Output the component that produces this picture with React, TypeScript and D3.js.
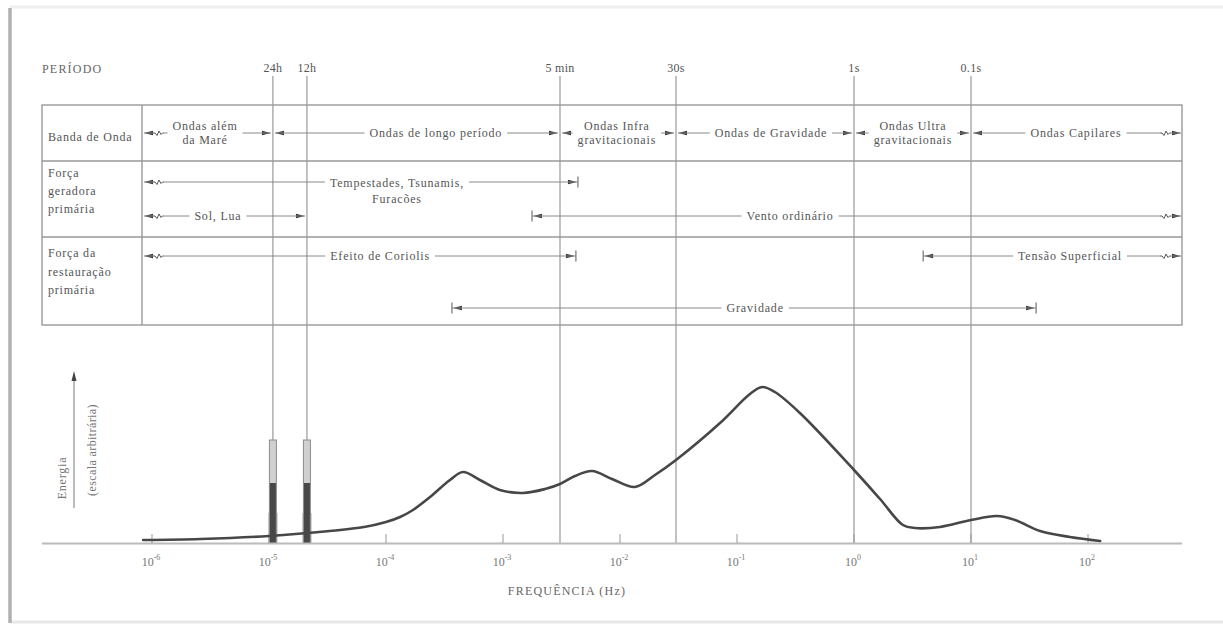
import React, { useEffect, useRef } from 'react';
import * as d3 from 'd3';

const W = 1223;
const H = 625;

// ---- data ----
const periodLabels = ['24h', '12h', '5 min', '30s', '1s', '0.1s'];
const periodFreqs = [1.08e-5, 2.11e-5, 3.07e-3, 3.01e-2, 1, 10];

const decadeExps = [-6, -5, -4, -3, -2, -1, 0, 1, 2];

const rowTitles = [
  ['Banda de Onda'],
  ['Força', 'geradora', 'primária'],
  ['Força da', 'restauração', 'primária'],
];

const bandLabels = [
  ['Ondas além', 'da Maré'],
  ['Ondas de longo período'],
  ['Ondas Infra', 'gravitacionais'],
  ['Ondas de Gravidade'],
  ['Ondas Ultra', 'gravitacionais'],
  ['Ondas Capilares'],
];
const bandEdges: (number | null)[] = [null, 1.08e-5, 3.07e-3, 3.01e-2, 1, 10, null];
const bandLabelFreqs = [2.84e-6, 2.67e-4, 9.4e-3, 0.195, 3.19, 78.9];

const forceLabels = [
  ['Tempestades, Tsunamis,', 'Furacões'],
  ['Sol, Lua'],
  ['Vento ordinário'],
  ['Efeito de Coriolis'],
  ['Tensão Superficial'],
  ['Gravidade'],
];
const forceFrom: (number | null)[] = [null, null, 1.77e-3, null, 3.9, 3.66e-4];
const forceTo: (number | null)[] = [4.37e-3, 2.11e-5, null, 4.2e-3, null, 36];
const forceEndKind = ['bar', 'arrow', 'bar', 'bar', 'bar', 'bar'];
const forceLabelFreqs = [1.24e-4, 3.66e-6, 0.284, 8.9e-5, 70.2, 0.143];
const forceLane = [0, 1, 1, 2, 2, 3];

const energyFreq = [
  8.4e-7, 2.6e-6, 1e-5, 3.3e-5, 6.5e-5, 1e-4, 1.32e-4, 1.7e-4, 2.38e-4, 3.52e-4, 4.55e-4,
  6.35e-4, 9.4e-4, 1.48e-3, 2.29e-3, 3.07e-3, 4.12e-3, 5.77e-3, 8.55e-3, 1.34e-2, 1.99e-2,
  3.01e-2, 7.16e-2, 0.129, 0.164, 0.211, 0.345, 1, 1.67, 2.62, 3.32,
  5.43, 10, 16.7, 23.8, 38.9, 70.1, 127,
];
const energyValue = [
  3, 4, 7, 12, 16, 21, 26, 33, 46, 63, 71,
  63, 53, 50, 54, 59, 67, 72, 64, 56, 68,
  83, 120, 149, 156, 151, 130, 73, 44, 18, 15,
  16, 23, 27, 23, 12, 6, 2,
];

const tideSpikeFreqs = [1.08e-5, 2.11e-5];
const tideSpikeTop = [103, 103];
const tideSpikeCore = [60, 60];
const tideSpikeBase = [30, 30];

export default function App() {
  const ref = useRef<SVGSVGElement>(null);

  useEffect(() => {
    const svg = d3.select(ref.current as SVGSVGElement);
    svg.selectAll('*').remove();

    const font = "'Liberation Serif', 'DejaVu Serif', serif";
    const textColor = '#555';
    const rangeColor = '#8a8a8a';

    const x = d3.scaleLog().domain([1e-6, 1e2]).range([152, 1088]);
    const y = d3.scaleLinear().domain([0, 160]).range([543, 383]);
    const baseY = y(0);

    const T = { left: 42, right: 1182, div: 142, top: 105, rows: [161, 237, 325] };
    const innerL = T.div + 2;
    const innerR = T.right - 1;
    const bandY = 133;
    const laneY = [182, 216, 256, 308];
    const titleBaselines = [[141], [177, 195, 213], [257, 276, 294]];

    svg.append('rect').attr('width', W).attr('height', H).attr('fill', '#fff');

    // photo frame
    svg.append('line').attr('x1', 10).attr('x2', W).attr('y1', 7).attr('y2', 7)
      .attr('stroke', '#efefef').attr('stroke-width', 3);
    svg.append('line').attr('x1', 10).attr('x2', W).attr('y1', 622).attr('y2', 622)
      .attr('stroke', '#e8e8e8').attr('stroke-width', 3);
    svg.append('line').attr('x1', 10).attr('x2', 10).attr('y1', 8).attr('y2', 623)
      .attr('stroke', '#b0b0b0').attr('stroke-width', 3.5);

    const txt = (g: any, s: string, tx: number, ty: number, size = 12, anchor = 'middle', fill = textColor, ls = 0.8) =>
      g.append('text').attr('x', tx).attr('y', ty).text(s)
        .attr('font-family', font).attr('font-size', size)
        .attr('fill', fill).attr('letter-spacing', ls)
        .attr('text-anchor', anchor);

    // PERÍODO
    txt(svg, 'PERÍODO', 42, 73, 12, 'start', '#666', 1.2);

    // table
    const tg = svg.append('g');
    tg.append('rect').attr('x', T.left).attr('y', T.top)
      .attr('width', T.right - T.left).attr('height', T.rows[2] - T.top)
      .attr('fill', 'none').attr('stroke', '#999').attr('stroke-width', 1.4);
    [T.rows[0], T.rows[1]].forEach((ry) => {
      tg.append('line').attr('x1', T.left).attr('x2', T.right).attr('y1', ry).attr('y2', ry)
        .attr('stroke', '#999').attr('stroke-width', 1.4);
    });
    tg.append('line').attr('x1', T.div).attr('x2', T.div).attr('y1', T.top).attr('y2', T.rows[2])
      .attr('stroke', '#999').attr('stroke-width', 1.4);

    rowTitles.forEach((lines, r) => {
      lines.forEach((l, i) => txt(tg, l, 48, titleBaselines[r][i], 12, 'start'));
    });

    // period lines
    periodFreqs.forEach((f, i) => {
      const px = x(f);
      svg.append('line').attr('x1', px).attr('x2', px).attr('y1', 76).attr('y2', baseY)
        .attr('stroke', '#999').attr('stroke-width', 1.2);
      txt(svg, periodLabels[i], px, 72, 12, 'middle', '#555', 0.3);
    });

    const rg = svg.append('g');
    const arrowHead = (tip: number, yy: number, dir: number) => {
      rg.append('path')
        .attr('d', `M${tip},${yy} L${tip - dir * 9},${yy - 2.2} L${tip - dir * 9},${yy + 2.2} Z`)
        .attr('fill', '#333');
    };
    const squiggle = (sx: number, yy: number) => {
      rg.append('path')
        .attr('d', `M${sx},${yy} l2,0 l2,2.5 l2,-4.5 l2,3.5 l1.5,-1.5 l1.5,0`)
        .attr('fill', 'none').attr('stroke', '#555').attr('stroke-width', 1);
    };
    const bar = (bx: number, yy: number) => {
      rg.append('line').attr('x1', bx).attr('x2', bx).attr('y1', yy - 5.5).attr('y2', yy + 5.5)
        .attr('stroke', '#666').attr('stroke-width', 1.1);
    };
    const seg = (a: number, b: number, yy: number) => {
      if (b - a > 0.5) {
        rg.append('line').attr('x1', a).attr('x2', b).attr('y1', yy).attr('y2', yy)
          .attr('stroke', rangeColor).attr('stroke-width', 1);
      }
    };

    const drawRange = (
      yy: number, f1: number | null, f2: number | null,
      k1: string, k2: string, lines: string[], lf: number, offsets: number[],
    ) => {
      let start: number;
      let end: number;
      if (f1 === null) {
        arrowHead(innerL, yy, -1);
        seg(innerL, innerL + 9, yy);
        squiggle(innerL + 9, yy);
        start = innerL + 20;
      } else if (k1 === 'bar') {
        const bx = x(f1);
        bar(bx, yy);
        arrowHead(bx + 1, yy, -1);
        start = bx;
      } else {
        const bx = x(f1) + 2;
        arrowHead(bx, yy, -1);
        start = bx;
      }
      if (f2 === null) {
        arrowHead(innerR, yy, 1);
        squiggle(innerR - 21, yy);
        seg(innerR - 10, innerR, yy);
        end = innerR - 21;
      } else if (k2 === 'bar') {
        const bx = x(f2);
        bar(bx, yy);
        arrowHead(bx - 1, yy, 1);
        end = bx;
      } else {
        const bx = x(f2) - 2;
        arrowHead(bx, yy, 1);
        end = bx;
      }
      const lx = x(lf);
      const tgp = rg.append('g');
      lines.forEach((l, i) => txt(tgp, l, lx, yy + offsets[i], 12, 'middle'));
      const bb = (tgp.node() as SVGGElement).getBBox();
      seg(start, bb.x - 5, yy);
      seg(bb.x + bb.width + 5, end, yy);
    };

    // wave bands
    bandLabels.forEach((lines, i) => {
      const offs = lines.length === 2 ? [-3, 11] : [4];
      drawRange(bandY, bandEdges[i], bandEdges[i + 1], 'arrow', 'arrow', lines, bandLabelFreqs[i], offs);
    });

    // forces
    forceLabels.forEach((lines, i) => {
      const offs = lines.length === 2 ? [5, 21] : [4];
      drawRange(laneY[forceLane[i]], forceFrom[i], forceTo[i], 'bar', forceEndKind[i], lines, forceLabelFreqs[i], offs);
    });

    // tide spikes
    const sg = svg.append('g');
    tideSpikeFreqs.forEach((f, i) => {
      const sx = x(f);
      sg.append('rect').attr('x', sx - 5).attr('y', y(tideSpikeBase[i]))
        .attr('width', 10).attr('height', baseY - y(tideSpikeBase[i]))
        .attr('fill', '#999').attr('opacity', 0.45);
      sg.append('rect').attr('x', sx - 3.5).attr('y', y(tideSpikeTop[i]))
        .attr('width', 7).attr('height', baseY - y(tideSpikeTop[i]))
        .attr('fill', '#d0d0d0').attr('stroke', '#8c8c8c').attr('stroke-width', 1);
      sg.append('rect').attr('x', sx - 3).attr('y', y(tideSpikeCore[i]))
        .attr('width', 6).attr('height', baseY - y(tideSpikeCore[i]))
        .attr('fill', '#484848');
    });

    // axis
    svg.append('line').attr('x1', T.left).attr('x2', T.right).attr('y1', baseY + 0.5).attr('y2', baseY + 0.5)
      .attr('stroke', '#bbb').attr('stroke-width', 2);
    decadeExps.forEach((e) => {
      const tx = x(Math.pow(10, e));
      svg.append('line').attr('x1', tx).attr('x2', tx).attr('y1', baseY - 9).attr('y2', baseY)
        .attr('stroke', '#999').attr('stroke-width', 1);
      const t = svg.append('text').attr('x', tx - 1).attr('y', 566)
        .attr('font-family', font).attr('font-size', 12).attr('fill', '#777')
        .attr('text-anchor', 'middle');
      t.append('tspan').text('10');
      t.append('tspan').attr('dy', -6).attr('font-size', 8).text(String(e));
    });
    txt(svg, 'FREQUÊNCIA (Hz)', 567, 595, 12, 'middle', '#666', 1.2);

    // energy curve
    const line = d3.line<number>()
      .x((_, i) => x(energyFreq[i]))
      .y((d) => y(d))
      .curve(d3.curveCatmullRom.alpha(0.5));
    svg.append('path').attr('d', line(energyValue) as string)
      .attr('fill', 'none').attr('stroke', '#474747').attr('stroke-width', 2.6)
      .attr('stroke-linejoin', 'round').attr('stroke-linecap', 'round');

    // y-axis arrow + labels
    svg.append('line').attr('x1', 74).attr('x2', 74).attr('y1', 508).attr('y2', 380)
      .attr('stroke', '#777').attr('stroke-width', 1);
    svg.append('path').attr('d', 'M74,371 L71.5,381 L76.5,381 Z').attr('fill', '#444');
    svg.append('text').attr('transform', 'translate(66,478) rotate(-90)')
      .attr('font-family', font).attr('font-size', 12).attr('fill', '#777')
      .attr('letter-spacing', 0.8).attr('text-anchor', 'middle').text('Energia');
    svg.append('text').attr('transform', 'translate(96,450) rotate(-90)')
      .attr('font-family', font).attr('font-size', 12).attr('fill', '#777')
      .attr('letter-spacing', 0.4).attr('text-anchor', 'middle').text('(escala arbitrária)');
  }, []);

  return (
    <svg
      ref={ref}
      width={W}
      height={H}
      style={{ position: 'absolute', left: 0, top: 0, display: 'block' }}
    />
  );
}
